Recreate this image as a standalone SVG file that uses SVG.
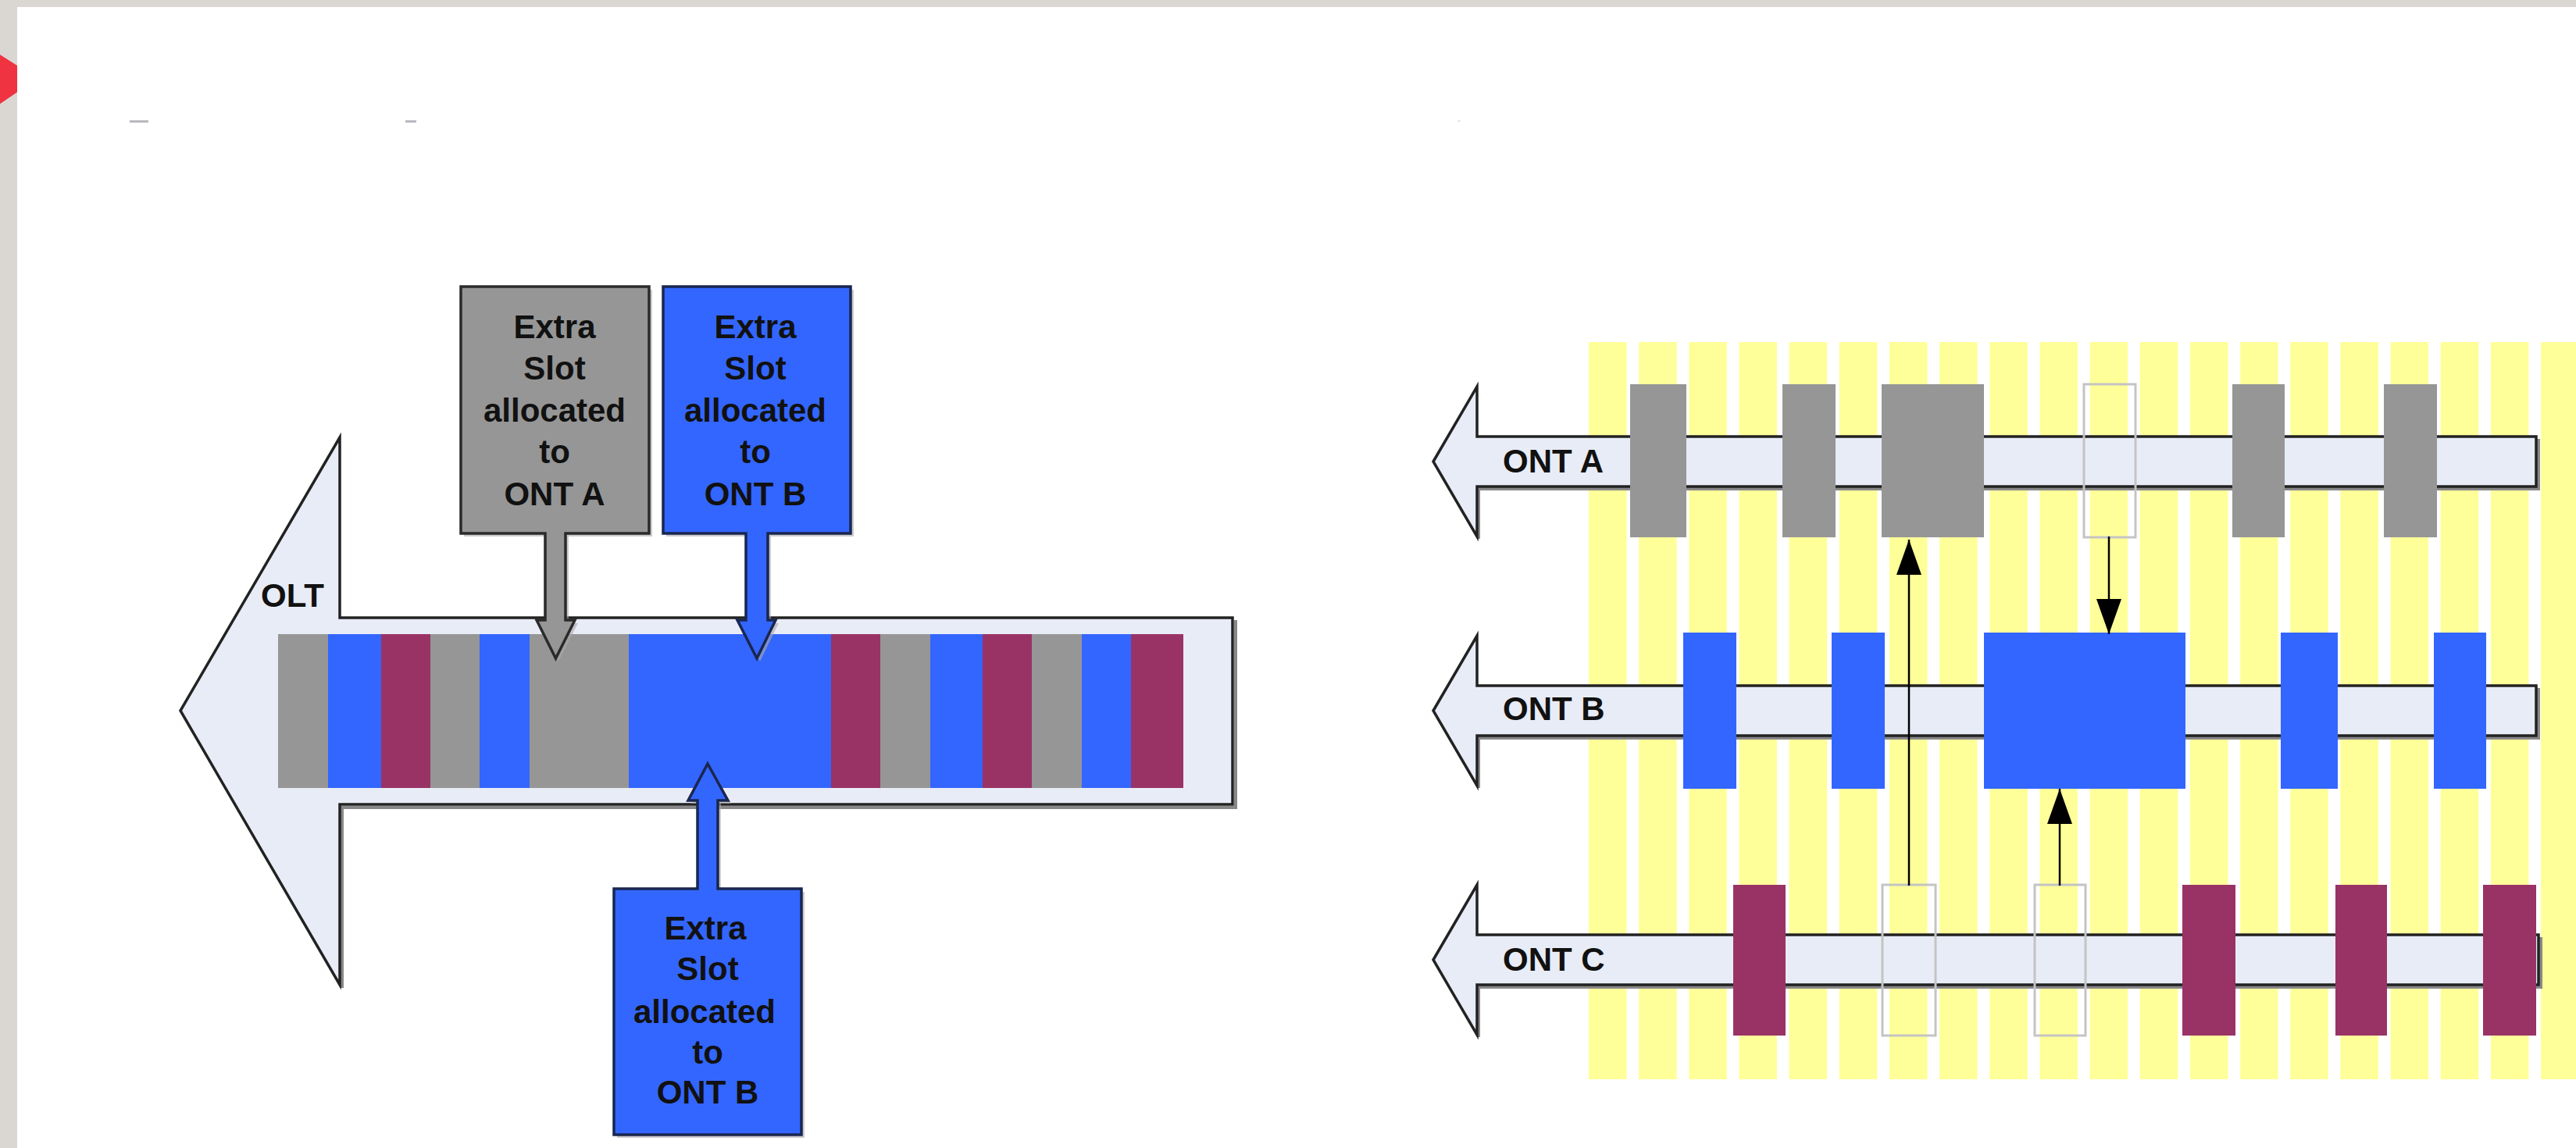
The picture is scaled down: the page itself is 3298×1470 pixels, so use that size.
<svg xmlns="http://www.w3.org/2000/svg" width="3298" height="1470" viewBox="0 0 3298 1470">
<defs>
<style>
.lbl{font-family:"Liberation Sans",Arial,sans-serif;font-size:42px;font-weight:bold;fill:#111;text-anchor:middle}
.ont{font-family:"Liberation Sans",Arial,sans-serif;font-size:42px;font-weight:bold;fill:#111}
.gray{fill:#969696}
.blue{fill:#3366ff}
.maroon{fill:#993366}
.stripe{fill:#ffff99}
.pipe{fill:#e8ecf6;stroke:#222;stroke-width:3.5;stroke-linejoin:miter}
.shadow{fill:none;stroke:#888;stroke-width:4}
.empty{fill:none;stroke:#c4c4c4;stroke-width:3}
.conn{stroke:#000;stroke-width:2.5;fill:none}
</style>
<marker id="ah" viewBox="0 0 45 32" refX="45" refY="16" markerWidth="45" markerHeight="32" markerUnits="userSpaceOnUse" orient="auto">
<path d="M0,0 L45,16 L0,32 Z" fill="#000"/>
</marker>
</defs>

<!-- page background -->
<rect x="0" y="0" width="3298" height="1470" fill="#dad7d2"/>
<rect x="22" y="9" width="3276" height="1461" fill="#ffffff"/>
<polygon points="0,70 22,84 22,118 0,133" fill="#ef3340"/>
<rect x="166" y="154" width="24" height="3" fill="#b8b8c0"/>
<rect x="519" y="154" width="14" height="3" fill="#b8b8c0"/>
<rect x="1866" y="154" width="4" height="2" fill="#e4e6ee"/>

<!-- LEFT DIAGRAM -->
<g id="olt-arrow">
<path class="shadow" d="M438,1265 V1034 H1582 V794"/>
<path class="pipe" d="M231,910 L435,560 V791 H1578 V1030 H435 V1261 Z"/>
<text class="ont" x="334" y="777">OLT</text>
</g>

<g id="olt-slots">
<rect class="gray" x="356" y="812" width="64" height="197"/>
<rect class="blue" x="420" y="812" width="68" height="197"/>
<rect class="maroon" x="488" y="812" width="63" height="197"/>
<rect class="gray" x="551" y="812" width="63" height="197"/>
<rect class="blue" x="614" y="812" width="64" height="197"/>
<rect class="gray" x="678" y="812" width="127" height="197"/>
<rect class="blue" x="805" y="812" width="259" height="197"/>
<rect class="maroon" x="1064" y="812" width="63" height="197"/>
<rect class="gray" x="1127" y="812" width="64" height="197"/>
<rect class="blue" x="1191" y="812" width="67" height="197"/>
<rect class="maroon" x="1258" y="812" width="63" height="197"/>
<rect class="gray" x="1321" y="812" width="64" height="197"/>
<rect class="blue" x="1385" y="812" width="63" height="197"/>
<rect class="maroon" x="1448" y="812" width="67" height="197"/>
</g>

<g id="callout-ont-a-top">
<path d="M594,371 H835 V687 H728 V798 H740 L715,847 L691,798 H702 V687 H594 Z" fill="#aaa" opacity="0.6"/>
<path d="M590,367 H831 V683 H724 V794 H736 L711.5,843 L687,794 H698 V683 H590 Z" fill="#969696" stroke="#2a2a2a" stroke-width="3.5"/>
<text class="lbl" x="710" y="433">Extra</text>
<text class="lbl" x="710" y="486">Slot</text>
<text class="lbl" x="710" y="540">allocated</text>
<text class="lbl" x="710" y="593">to</text>
<text class="lbl" x="710" y="647">ONT A</text>
</g>

<g id="callout-ont-b-top">
<path d="M853,371 H1093 V687 H987 V798 H997 L973,847 L948,798 H959 V687 H853 Z" fill="#aaa" opacity="0.6"/>
<path d="M849,367 H1089 V683 H983 V794 H993 L969,843 L944,794 H955 V683 H849 Z" fill="#3366ff" stroke="#1a2650" stroke-width="3.5"/>
<text class="lbl" x="967" y="433">Extra</text>
<text class="lbl" x="967" y="486">Slot</text>
<text class="lbl" x="967" y="540">allocated</text>
<text class="lbl" x="967" y="593">to</text>
<text class="lbl" x="967" y="647">ONT B</text>
</g>

<g id="callout-ont-b-bottom">
<path d="M790,1457 H1030 V1142 H923 V1029 H936 L910,982 L885,1029 H897 V1142 H790 Z" fill="#aaa" opacity="0.6"/>
<path d="M786,1453 H1026 V1138 H919 V1025 H932 L906,978 L881,1025 H893 V1138 H786 Z" fill="#3366ff" stroke="#1a2650" stroke-width="3.5"/>
<text class="lbl" x="903" y="1203">Extra</text>
<text class="lbl" x="906" y="1255">Slot</text>
<text class="lbl" x="902" y="1310">allocated</text>
<text class="lbl" x="906" y="1362">to</text>
<text class="lbl" x="906" y="1413">ONT B</text>
</g>

<!-- RIGHT DIAGRAM -->
<g id="time-grid">
<rect class="stripe" x="2034" y="438" width="48.5" height="944"/>
<rect class="stripe" x="2098.2" y="438" width="48.5" height="944"/>
<rect class="stripe" x="2162.3" y="438" width="48.5" height="944"/>
<rect class="stripe" x="2226.5" y="438" width="48.5" height="944"/>
<rect class="stripe" x="2290.6" y="438" width="48.5" height="944"/>
<rect class="stripe" x="2354.8" y="438" width="48.5" height="944"/>
<rect class="stripe" x="2419" y="438" width="48.5" height="944"/>
<rect class="stripe" x="2483.1" y="438" width="48.5" height="944"/>
<rect class="stripe" x="2547.3" y="438" width="48.5" height="944"/>
<rect class="stripe" x="2611.4" y="438" width="48.5" height="944"/>
<rect class="stripe" x="2675.6" y="438" width="48.5" height="944"/>
<rect class="stripe" x="2739.8" y="438" width="48.5" height="944"/>
<rect class="stripe" x="2803.9" y="438" width="48.5" height="944"/>
<rect class="stripe" x="2868.1" y="438" width="48.5" height="944"/>
<rect class="stripe" x="2932.2" y="438" width="48.5" height="944"/>
<rect class="stripe" x="2996.4" y="438" width="48.5" height="944"/>
<rect class="stripe" x="3060.6" y="438" width="48.5" height="944"/>
<rect class="stripe" x="3124.7" y="438" width="48.5" height="944"/>
<rect class="stripe" x="3188.9" y="438" width="48.5" height="944"/>
<rect class="stripe" x="3253" y="438" width="48.5" height="944"/>
</g>

<g id="ont-a">
<path class="shadow" d="M1893,690 V626 H3250 V562" stroke-width="3"/>
<path class="pipe" d="M1835,591 L1891,495 V559 H3247 V623 H1891 V687 Z" stroke-width="3"/>
<text class="ont" x="1924" y="605">ONT A</text>
<rect class="gray" x="2087" y="492" width="72" height="196"/>
<rect class="gray" x="2282" y="492" width="68" height="196"/>
<rect class="gray" x="2409" y="492" width="131" height="196"/>
<rect class="empty" x="2668" y="492" width="66" height="196"/>
<rect class="gray" x="2858" y="492" width="67" height="196"/>
<rect class="gray" x="3052" y="492" width="68" height="196"/>
</g>

<g id="ont-b">
<path class="shadow" d="M1893,1009 V945 H3250 V881" stroke-width="3"/>
<path class="pipe" d="M1835,910 L1891,814 V878 H3247 V942 H1891 V1006 Z" stroke-width="3"/>
<text class="ont" x="1924" y="922">ONT B</text>
<rect class="blue" x="2155" y="810" width="68" height="200"/>
<rect class="blue" x="2345" y="810" width="68" height="200"/>
<rect class="blue" x="2540" y="810" width="258" height="200"/>
<rect class="blue" x="2920" y="810" width="73" height="200"/>
<rect class="blue" x="3116" y="810" width="67" height="200"/>
</g>

<g id="ont-c">
<path class="shadow" d="M1893,1328 V1264 H3253 V1200" stroke-width="3"/>
<path class="pipe" d="M1835,1229 L1891,1133 V1197 H3250 V1261 H1891 V1325 Z" stroke-width="3"/>
<text class="ont" x="1924" y="1243">ONT C</text>
<rect class="maroon" x="2219" y="1133" width="67" height="193"/>
<rect class="empty" x="2410" y="1133" width="68" height="193"/>
<rect class="empty" x="2605" y="1133" width="65" height="193"/>
<rect class="maroon" x="2794" y="1133" width="68" height="193"/>
<rect class="maroon" x="2990" y="1133" width="66" height="193"/>
<rect class="maroon" x="3179" y="1133" width="68" height="193"/>
</g>

<g id="connectors">
<line class="conn" x1="2444" y1="1134" x2="2444" y2="691" marker-end="url(#ah)"/>
<line class="conn" x1="2700" y1="687" x2="2700" y2="812" marker-end="url(#ah)"/>
<line class="conn" x1="2637" y1="1134" x2="2637" y2="1010" marker-end="url(#ah)"/>
</g>
</svg>
